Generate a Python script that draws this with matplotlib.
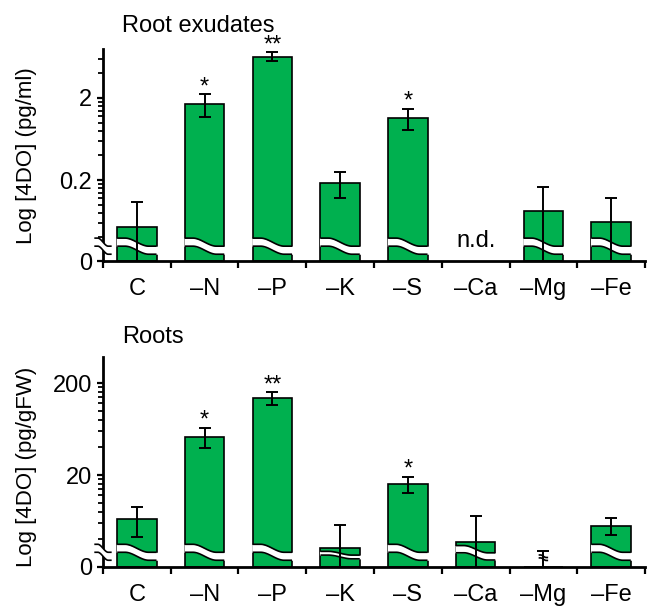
import numpy as np
import matplotlib
matplotlib.use("Agg")
import matplotlib.pyplot as plt
from matplotlib import transforms
from matplotlib.ticker import FixedLocator, FixedFormatter, NullFormatter

plt.rcParams['font.family'] = ['Liberation Sans', 'DejaVu Sans']

GREEN = "#00B04F"

categories = ["C", "–N", "–P", "–K", "–S", "–Ca", "–Mg", "–Fe"]

# root exudates, pg/ml (–Ca not detected)
exudate_mean = [0.054, 1.69, 6.38, 0.185, 1.15, np.nan, 0.084, 0.062]
exudate_err = [0.055, 0.53, 0.80, 0.063, 0.33, np.nan, 0.080, 0.058]
exudate_sig = ["", "*", "**", "", "*", "", "", ""]
exudate_nd = ["", "", "", "", "", "n.d.", "", ""]

# roots, pg/gFW
root_mean = [6.6, 52, 136, 3.2, 15.9, 3.7, 1.5, 5.6]
root_err = [2.4, 13, 22, 2.5, 3.3, 3.5, 1.5, 1.2]
root_sig = ["", "*", "**", "", "*", "", "", ""]


def wavy_break(ax, x0, x1, y_top, trans, drop=0.038, gap=0.038, pad=0.0):
    # white S-shaped gap with black edges, y in axes fraction
    t = np.linspace(0, 1, 80)
    s = np.clip((t - 0.2) / 0.6, 0, 1)
    s = s * s * (3 - 2 * s)
    xs = x0 + (x1 - x0) * t
    upper = y_top - drop * s
    lower = upper - gap
    xf = np.linspace(x0 - pad, x1 + pad, 80)
    ax.fill_between(xf, lower, upper, color="white", lw=0, transform=trans,
                    zorder=3, clip_on=False)
    ax.plot(xs, upper, color="black", lw=1.2, transform=trans, zorder=3.1,
            clip_on=False, solid_capstyle="butt")
    ax.plot(xs, lower, color="black", lw=1.2, transform=trans, zorder=3.1,
            clip_on=False, solid_capstyle="butt")


def draw_panel(ax, means, errs, sig, ymin, ymax, majors, major_labels, minors, nd=None):
    means = np.array(means, dtype=float)
    errs = np.array(errs, dtype=float)
    x = np.arange(len(categories))
    width = 0.58

    ax.set_yscale("log")
    ax.set_ylim(ymin, ymax)
    ax.set_xlim(-0.5, len(categories) - 0.5)

    heights = np.clip(means - ymin, 0, None)
    ax.bar(x, heights, bottom=ymin, width=width, color=GREEN, edgecolor="black",
           linewidth=1.2, zorder=2)

    low = np.where(means - errs <= ymin, means - np.minimum(ymin * 0.8, means * 0.5), errs)
    ax.errorbar(x, means, yerr=[low, errs], fmt="none", ecolor="black",
                elinewidth=1.4, capsize=4, capthick=1.4, zorder=4)

    blend = transforms.blended_transform_factory(ax.transData, ax.transAxes)
    to_axes = ax.transAxes.inverted()
    for i, m in enumerate(means):
        if np.isnan(m):
            continue
        if m > ymin:
            frac = to_axes.transform(ax.transData.transform((0, m)))[1]
            y_top = min(0.108, frac - 0.015)
            d = max(0.038 - 0.6 * (0.108 - y_top), 0.012)
            wavy_break(ax, i - width / 2, i + width / 2, y_top, blend, drop=d, gap=d, pad=0.015)
        else:
            frac = to_axes.transform(ax.transData.transform((0, m + errs[i])))[1]
            wavy_break(ax, i - 0.07, i + 0.07, frac - 0.02, blend, drop=0.012, gap=0.014)

    # break mark on the y axis
    wavy_break(ax, -0.016, 0.016, 0.108, ax.transAxes)

    for i, s in enumerate(sig):
        if s:
            ax.annotate(s, (i, means[i] + errs[i]), xytext=(0, 1), textcoords="offset pixels",
                        ha="center", va="baseline", fontsize=17, zorder=5)
    if nd:
        for i, s in enumerate(nd):
            if s:
                ax.annotate(s, (i, ymin), xytext=(0, 14), textcoords="offset pixels",
                            ha="center", va="baseline", fontsize=17)

    ax.yaxis.set_major_locator(FixedLocator(majors))
    ax.yaxis.set_major_formatter(FixedFormatter(major_labels))
    ax.yaxis.set_minor_locator(FixedLocator(minors))
    ax.yaxis.set_minor_formatter(NullFormatter())
    ax.set_xticks(x)
    ax.set_xticklabels(categories)
    ax.set_xticks(np.arange(len(categories) + 1) - 0.5, minor=True)

    ax.tick_params(axis="y", which="major", direction="out", length=4.5, width=1.6,
                   pad=3.5, labelsize=17)
    ax.tick_params(axis="y", which="minor", direction="out", length=3.5, width=1.3)
    ax.tick_params(axis="x", which="major", length=0, pad=12, labelsize=17)
    ax.tick_params(axis="x", which="minor", direction="out", length=5, width=1.6)

    for side in ["top", "right"]:
        ax.spines[side].set_visible(False)
    for side in ["left", "bottom"]:
        ax.spines[side].set_linewidth(2)


fig = plt.figure(figsize=(6.51, 6.06), dpi=100)
ax1 = fig.add_axes([0.1582, 0.5693, 0.8326, 0.3498])
ax2 = fig.add_axes([0.1582, 0.0644, 0.8326, 0.3465])

ex_min, ex_max = 0.0206, 7.9
draw_panel(ax1, exudate_mean, exudate_err, exudate_sig, ex_min, ex_max,
           [ex_min, 0.2, 2], ["0", "0.2", "2"],
           [0.04, 0.06, 0.08, 0.1, 0.12, 0.14, 0.16, 0.18,
            0.4, 0.6, 0.8, 1.0, 1.2, 1.4, 1.6, 1.8, 4, 6, 8],
           nd=exudate_nd)

rt_min, rt_max = 2.0, 384
draw_panel(ax2, root_mean, root_err, root_sig, rt_min, rt_max,
           [rt_min, 20, 200], ["0", "20", "200"],
           [4, 6, 8, 10, 12, 14, 16, 18, 40, 60, 80, 100, 120, 140, 160, 180])

fig.text(122 / 651, 1 - 32 / 606, "Root exudates", fontsize=17, va="baseline", ha="left")
fig.text(122 / 651, 1 - 343 / 606, "Roots", fontsize=17, va="baseline", ha="left")
fig.text(27 / 651, 1 - 156 / 606, "Log [4DO] (pg/ml)", fontsize=16, rotation=90,
         ha="center", va="center")
fig.text(27 / 651, 1 - 467 / 606, "Log [4DO] (pg/gFW)", fontsize=16, rotation=90,
         ha="center", va="center")

fig.savefig("out.png", dpi=100)
